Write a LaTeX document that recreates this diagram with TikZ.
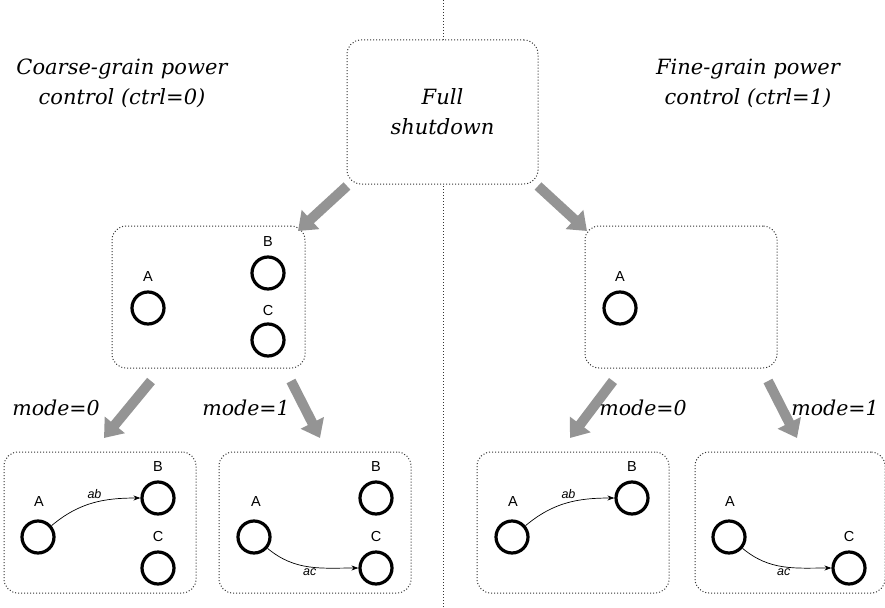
\documentclass[tikz,border=0pt]{standalone}
\usepackage{fontspec}
\setmainfont{DejaVu Serif}
\newfontfamily\labfont{Liberation Sans}
\usetikzlibrary{arrows.meta}

\begin{document}
\begin{tikzpicture}[x=1pt,y=-1pt,
  panel/.style={draw=black!80, dotted, line width=1pt, rounded corners=14pt, fill=white, inner sep=0pt},
  state/.style={circle, draw, line width=3.2pt, minimum size=32pt, inner sep=0pt},
  slabel/.style={font=\labfont\fontsize{14.5}{14.5}\selectfont, inner sep=0pt},
  elabel/.style={font=\labfont\itshape\fontsize{12.5}{12.5}\selectfont, inner sep=1.5pt},
  title/.style={font=\itshape\fontsize{21}{30}\selectfont, align=center},
  modelabel/.style={font=\itshape\fontsize{20.5}{20.5}\selectfont},
  bigarrow/.style={draw=black!42, line width=10pt, -{Triangle[width=25pt,length=17pt]}},
  trans/.style={-{Stealth[length=7pt,width=5pt]}, line width=0.7pt}]
\useasboundingbox (0,0) rectangle (885,607);

% dividing line between the two policies
\coordinate (divtop) at (443,0);
\coordinate (divbot) at (443,607);
\draw[black!80, dotted, line width=1pt] (divtop) -- (divbot);

% headings
\node[title] (coarse) at (122,83) {Coarse-grain power\\control (ctrl=0)};
\node[title] (fine)   at (748,83) {Fine-grain power\\control (ctrl=1)};

% top state
\node[panel, minimum width=191pt, minimum height=144pt, title] (full) at (442.5,112) {Full\\shutdown};

% intermediate states
\node[panel, minimum width=193pt, minimum height=142pt] (cg) at (208.5,297) {};
\node[panel, minimum width=192pt, minimum height=142pt] (fg) at (681,297) {};

% leaf states
\node[panel, minimum width=192pt, minimum height=141pt] (cg0) at (100,522.5) {};
\node[panel, minimum width=192pt, minimum height=141pt] (cg1) at (315,522.5) {};
\node[panel, minimum width=192pt, minimum height=141pt] (fg0) at (573,522.5) {};
\node[panel, minimum width=190pt, minimum height=141pt] (fg1) at (790,522.5) {};

% thick transition arrows
\coordinate (t1s) at (347,186); \coordinate (t1e) at (298,231);
\coordinate (t2s) at (538,186); \coordinate (t2e) at (587,231);
\coordinate (m1s) at (151,381); \coordinate (m1e) at (104,438);
\coordinate (m2s) at (291,381); \coordinate (m2e) at (320,438);
\coordinate (m3s) at (613,381); \coordinate (m3e) at (570,438);
\coordinate (m4s) at (768,381); \coordinate (m4e) at (797,438);
\foreach \s/\e in {t1s/t1e, t2s/t2e, m1s/m1e, m2s/m2e, m3s/m3e, m4s/m4e}
  \draw[bigarrow] (\s) -- (\e);

\node[modelabel] (ml1) at (56,408)  {mode=0};
\node[modelabel] (ml2) at (246,408) {mode=1};
\node[modelabel] (ml3) at (643,408) {mode=0};
\node[modelabel] (ml4) at (835,408) {mode=1};

% coarse-grain intermediate
\node[state] (cgA) at (148,308) {};
\node[state] (cgB) at (268,273) {};
\node[state] (cgC) at (268,340) {};
\node[slabel] at (148,277) {A};
\node[slabel] at (268,242) {B};
\node[slabel] at (268,311) {C};

% fine-grain intermediate
\node[state] (fgA) at (620,308) {};
\node[slabel] at (620,277) {A};

% coarse-grain, mode=0
\node[state] (aA) at (38,537) {};
\node[state] (aB) at (158,498) {};
\node[state] (aC) at (158,568) {};
\node[slabel] at (39,502) {A};
\node[slabel] at (158,467) {B};
\node[slabel] at (158,537) {C};
\draw[trans] (aA) to[out=40,in=180] node[elabel, pos=0.52, above, inner sep=4pt] {ab} (aB);

% coarse-grain, mode=1
\node[state] (bA) at (254,537) {};
\node[state] (bB) at (376,498) {};
\node[state] (bC) at (376,568) {};
\node[slabel] at (256,502) {A};
\node[slabel] at (376,467) {B};
\node[slabel] at (376,537) {C};
\draw[trans] (bA) to[out=-40,in=180] node[elabel, pos=0.5, below] {ac} (bC);

% fine-grain, mode=0
\node[state] (cA) at (512,537) {};
\node[state] (cB) at (632,498) {};
\node[slabel] at (513,502) {A};
\node[slabel] at (632,467) {B};
\draw[trans] (cA) to[out=40,in=180] node[elabel, pos=0.52, above, inner sep=4pt] {ab} (cB);

% fine-grain, mode=1
\node[state] (dA) at (729,537) {};
\node[state] (dC) at (849,568) {};
\node[slabel] at (730,502) {A};
\node[slabel] at (849,537) {C};
\draw[trans] (dA) to[out=-40,in=180] node[elabel, pos=0.5, below] {ac} (dC);
\end{tikzpicture}
\end{document}
